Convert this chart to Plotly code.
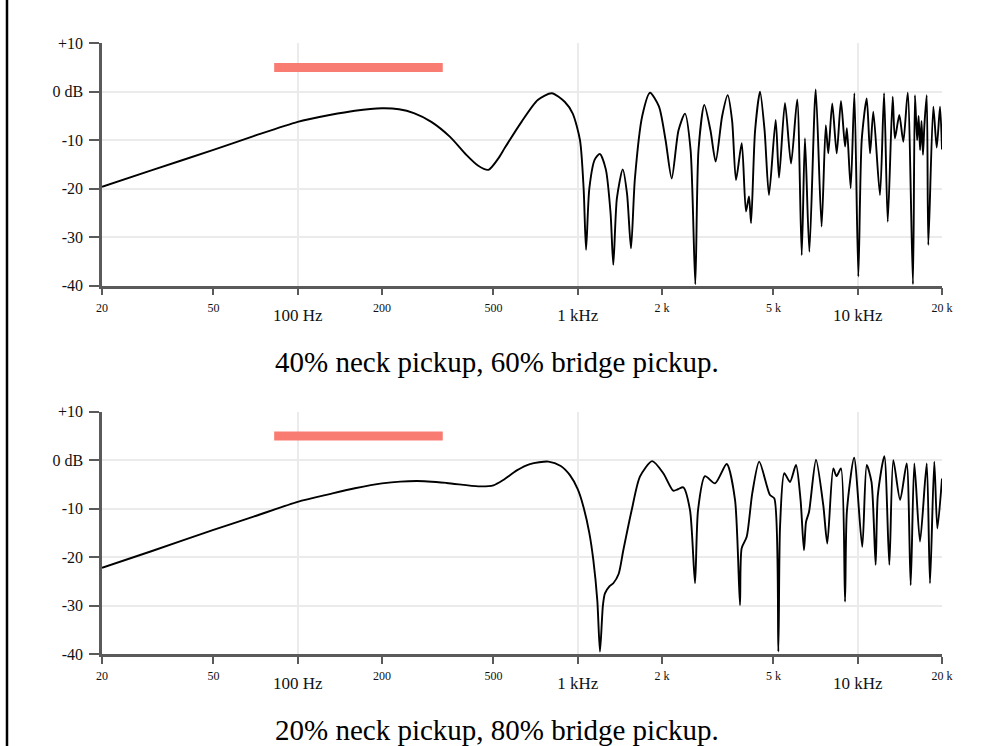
import plotly.graph_objects as go
import math

# ---------------- data ----------------
freq_top = [20, 30, 50, 70, 100, 130, 160, 200, 230, 260, 300, 350, 400, 440, 480, 520, 550, 630, 720, 808,
            900, 960, 1019, 1050, 1071, 1100, 1150, 1200, 1260, 1310, 1340, 1380, 1448, 1500, 1550, 1600,
            1700, 1812, 1950, 2060, 2166, 2290, 2416, 2530, 2630, 2700, 2832, 2980, 3110, 3280, 3434, 3560,
            3676, 3853, 3990, 4090, 4160, 4300, 4478, 4650, 4820, 5094, 5236, 5498, 5780, 6080, 6310, 6480,
            6720, 7080, 7430, 7690, 7850, 8110, 8414, 8714, 9010, 9150, 9440, 9730, 10050, 10334, 10770,
            11070, 11370, 12010, 12420, 12800, 13330, 13580, 14080, 14550, 15090, 15750, 16010, 16300, 16500,
            16700, 16900, 17100, 17300, 17640, 17870, 18620, 19150, 19680, 20000]
db_top = [-19.6, -16.2, -12.0, -9.1, -6.2, -4.8, -3.9, -3.4, -3.6, -4.4, -6.2, -9.3, -13.0, -15.2, -16.1, -13.8,
          -11.5, -6.2, -1.7, -0.3, -2.1, -4.5, -10.0, -20.0, -32.6, -20.0, -14.0, -12.8, -16.0, -25.0, -35.7,
          -22.0, -16.0, -21.0, -32.3, -18.0, -5.0, -0.2, -3.0, -10.0, -17.9, -8.0, -4.5, -12.0, -39.7, -12.0,
          -2.7, -8.0, -14.4, -5.0, -0.7, -6.0, -18.2, -10.6, -24.7, -21.6, -27.1, -8.0, 0.0, -8.0, -21.3, -5.8,
          -17.7, -2.3, -14.8, -1.6, -33.7, -9.6, -33.0, 0.5, -27.8, -6.9, -12.7, -2.4, -12.7, -1.9, -11.3,
          -7.5, -19.9, -0.3, -38.1, -10.0, -1.4, -12.7, -4.1, -21.3, -0.3, -26.8, -1.0, -9.6, -4.8, -10.3,
          -0.2, -39.7, -0.7, -10.0, -5.0, -12.0, -6.0, -13.0, -7.0, -0.7, -31.6, -3.1, -11.5, -3.1, -11.9]

freq_bot = [20, 30, 50, 70, 100, 130, 160, 200, 266, 340, 442, 500, 542, 606, 675, 786, 870, 938, 1000, 1048,
            1100, 1137, 1175, 1201, 1230, 1251, 1300, 1340, 1400, 1455, 1559, 1668, 1845, 2021, 2194, 2280,
            2382, 2518, 2624, 2690, 2848, 3093, 3406, 3646, 3798, 3850, 4014, 4200, 4448, 4860, 5036, 5206,
            5280, 5468, 5729, 6020, 6250, 6428, 6540, 6700, 7096, 7534, 7786, 8180, 8400, 8714, 9010, 9150,
            9710, 10380, 10770, 11200, 11590, 11800, 12450, 12970, 13400, 14170, 14960, 15460, 15930, 16690,
            17640, 18120, 18770, 19250, 20000]
db_bot = [-22.2, -18.8, -14.4, -11.6, -8.6, -7.0, -5.8, -4.8, -4.3, -4.7, -5.4, -5.2, -4.1, -2.1, -0.8, -0.3,
          -1.2, -3.1, -6.0, -9.6, -15.0, -20.6, -29.0, -39.5, -30.0, -27.5, -26.0, -25.4, -23.5, -18.6, -10.3,
          -3.4, -0.2, -2.7, -6.3, -6.0, -5.6, -10.3, -25.4, -10.3, -3.3, -4.8, -0.8, -8.2, -29.9, -18.2, -15.8,
          -6.9, -0.3, -7.2, -7.9, -39.5, -13.7, -2.7, -4.5, -1.0, -8.2, -18.6, -12.7, -10.7, 0.1, -9.3, -17.2,
          -1.7, -3.3, -1.7, -29.2, -10.5, 0.5, -17.9, -1.0, -4.5, -21.6, -7.2, 0.8, -21.6, 0.0, -8.2, -0.7,
          -25.8, -0.7, -16.8, -0.7, -25.4, -0.3, -14.1, -3.8]

bar_freq = [82.4, 329.6]
bar_db = [5, 5]

x_ticks = [20, 50, 100, 200, 500, 1000, 2000, 5000, 10000, 20000]
x_small_text = ["20", "50", "", "200", "500", "", "2 k", "5 k", "", "20 k"]
x_big_vals = [100, 1000, 10000]
x_big_text = ["100 Hz", "1 kHz", "10 kHz"]
y_ticks = [-40, -30, -20, -10, 0, 10]
y_text = ["-40", "-30", "-20", "-10", "0 dB", "+10"]
captions = ["40% neck pickup, 60% bridge pickup.", "20% neck pickup, 80% bridge pickup."]

# ---------------- style ----------------
W, H = 985, 746
FONT = "Liberation Serif"
AX = "#5a5a5a"
GRID = "#ebebeb"
XDOM = [102 / W, 942 / W]
YDOM_TOP = [1 - 285.7 / H, 1 - 43.3 / H]
YDOM_BOT = [1 - 654.0 / H, 1 - 411.7 / H]
XRANGE = [math.log10(20), math.log10(20000)]

fig = go.Figure()

for i, (fx, dy) in enumerate([(freq_top, db_top), (freq_bot, db_bot)]):
    ya = "y" if i == 0 else "y2"
    xa_main = "x" if i == 0 else "x2"
    xa_over = "x3" if i == 0 else "x4"
    fig.add_trace(go.Scatter(x=bar_freq, y=bar_db, mode="lines", xaxis=xa_over, yaxis=ya,
                             line=dict(color="#f97c73", width=9), showlegend=False, hoverinfo="skip"))
    fig.add_trace(go.Scatter(x=fx, y=dy, mode="lines", xaxis=xa_main, yaxis=ya,
                             line=dict(color="black", width=1.9, shape="spline", smoothing=0.7),
                             showlegend=False))


def main_x(anchor):
    return dict(domain=XDOM, anchor=anchor, type="log", range=XRANGE, tickmode="array",
                tickvals=x_ticks, ticktext=x_small_text, ticks="outside", ticklen=7, tickwidth=2,
                tickcolor=AX, showline=True, linecolor=AX, linewidth=2.5, showgrid=False,
                tickfont=dict(family=FONT, size=12, color="#111"), ticklabelstandoff=2, layer="above traces")


def over_x(over, anchor):
    return dict(overlaying=over, anchor=anchor, type="log", range=XRANGE, tickmode="array",
                tickvals=x_big_vals, ticktext=x_big_text, ticks="", showline=False, showgrid=True,
                gridcolor=GRID, gridwidth=2, tickfont=dict(family=FONT, size=17, color="#111"),
                ticklabelstandoff=17, layer="below traces")


def y_ax(dom, anchor):
    return dict(domain=dom, anchor=anchor, range=[-40, 10], tickmode="array", tickvals=y_ticks,
                ticktext=y_text, ticks="outside", ticklen=10, tickwidth=2, tickcolor=AX, showline=True,
                linecolor=AX, linewidth=2.5, showgrid=True, gridcolor=GRID, gridwidth=2, zeroline=False,
                tickfont=dict(family=FONT, size=16, color="#111"), ticklabelstandoff=3, layer="above traces")


fig.update_layout(
    width=W, height=H, margin=dict(l=0, r=0, t=0, b=0, autoexpand=False),
    paper_bgcolor="white", plot_bgcolor="white",
    xaxis=main_x("y"), xaxis3=over_x("x", "y"),
    xaxis2=main_x("y2"), xaxis4=over_x("x2", "y2"),
    yaxis=y_ax(YDOM_TOP, "x"), yaxis2=y_ax(YDOM_BOT, "x2"),
    shapes=[dict(type="line", xref="paper", yref="paper", x0=7 / W, x1=7 / W, y0=0, y1=1,
                 line=dict(color="black", width=2.5))],
    annotations=[
        dict(text=captions[0], xref="paper", yref="paper", x=497 / W, y=1 - 362 / H, showarrow=False,
             xanchor="center", yanchor="middle", font=dict(family=FONT, size=29, color="black")),
        dict(text=captions[1], xref="paper", yref="paper", x=497 / W, y=1 - 730 / H, showarrow=False,
             xanchor="center", yanchor="middle", font=dict(family=FONT, size=29, color="black")),
    ],
)

fig.write_html("out.html", config={"displayModeBar": False},
               post_script="document.body.style.margin='0';")
